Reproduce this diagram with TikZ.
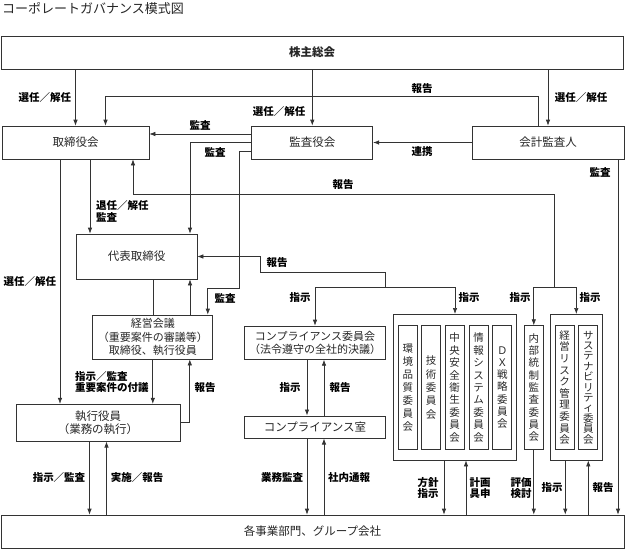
\documentclass[tikz,border=0pt]{standalone}
\usepackage{fontspec}
\setmainfont{Noto Sans CJK JP}
\usetikzlibrary{arrows.meta}

\tikzset{
  box/.style={draw=black!80, line width=0.7pt, inner sep=0pt, minimum height=33pt,
    text=black!85, align=center, font=\fontsize{11.5}{13.3}\selectfont},
  vcol/.style={draw=black!80, line width=0.7pt, inner sep=0pt, minimum width=19pt,
    minimum height=123.6pt, text=black!85, align=center, font=\fontsize{10.5}{#1}\selectfont},
  vcol/.default=12.5,
  lbl/.style={inner sep=0pt, font=\bfseries\fontsize{10.5}{11.5}\selectfont},
  ln/.style={draw=black!80, line width=0.7pt},
  arr/.style={ln, -{Latex[length=6pt,width=4.5pt]}},
}

\begin{document}
\begin{tikzpicture}[x=1pt, y=-1pt]
  \useasboundingbox (0,0) rectangle (625,549);

  \node[anchor=west, inner sep=0pt, font=\fontsize{13}{13}\selectfont, text=black!85] (title) at (2,9) {コーポレートガバナンス模式図};

  % boxes
  \node[box, font=\bfseries\fontsize{11.5}{13}\selectfont, minimum width=622pt] (soukai) at (312,52.5) {株主総会};
  \node[box, minimum width=147pt] (board) at (75.5,142.5) {取締役会};
  \node[box, minimum width=121pt] (kansa) at (312.3,142.5) {監査役会};
  \node[box, minimum width=152pt] (kaikei) at (548,142.5) {会計監査人};
  \node[box, minimum width=121pt, minimum height=45pt] (daihyo) at (136.5,256.5) {代表取締役};
  \node[box, minimum width=120pt, minimum height=44pt, font=\fontsize{11}{13.3}\selectfont] (keiei) at (152.8,337) {経営会議\\（重要案件の審議等）\\取締役、執行役員};
  \node[box, minimum width=164pt, minimum height=37pt] (shikko) at (98,422.7) {執行役員\\（業務の執行）};
  \node[box, minimum width=141.4pt, minimum height=33.3pt, font=\fontsize{11}{13.3}\selectfont] (comp) at (315,342.7) {コンプライアンス委員会\\（法令遵守の全社的決議）};
  \node[box, minimum width=141.4pt, minimum height=22.3pt] (compr) at (315,427) {コンプライアンス室};
  \node[box, minimum width=623pt] (jigyo) at (312.5,531.5) {各事業部門、グループ会社};

  % committees
  \node[box, minimum width=123.4pt, minimum height=145.7pt] (grp1) at (455,387.2) {};
  \node[box, minimum width=52pt, minimum height=145.7pt] (grp2) at (576.3,387.2) {};
  \node[vcol=13] (kankyo) at (407.8,387.5) {環\\境\\品\\質\\委\\員\\会};
  \node[vcol=13.3] (gijutsu) at (431.2,387.5) {技\\術\\委\\員\\会};
  \node[vcol=12.4] (anzen) at (454.7,387.5) {中\\央\\安\\全\\衛\\生\\委\\員\\会};
  \node[vcol=12.4] (joho) at (478.7,387.5) {情\\報\\シ\\ス\\テ\\ム\\委\\員\\会};
  \node[vcol=12.2] (dx) at (502.3,387.5) {Ｄ\\Ｘ\\戦\\略\\委\\員\\会};
  \node[vcol=12.3] (naibu) at (533.8,387.5) {内\\部\\統\\制\\監\\査\\委\\員\\会};
  \node[vcol=11.6] (risk) at (564.5,387.5) {経\\営\\リ\\ス\\ク\\管\\理\\委\\員\\会};
  \node[vcol=10.4] (sustain) at (588.3,387.5) {サ\\ス\\テ\\ナ\\ビ\\リ\\テ\\ィ\\委\\員\\会};

  \coordinate (j1) at (554,287);
  \coordinate (j2) at (385,287);

  % connectors
  \draw[arr] (board.north |- soukai.south) -- (board.north);
  \draw[arr] (kansa.north |- soukai.south) -- (kansa.north);
  \draw[arr] (kaikei.north |- soukai.south) -- (kaikei.north);
  \draw[arr] ([xshift=-10pt]kaikei.north) -- ++(0,-29) -| ([xshift=30pt]board.north);
  \draw[arr] ([yshift=8.5pt]kansa.west) -- ([yshift=8.5pt]kansa.west -| board.east);
  \draw[arr] (kansa.west) -| ([xshift=53.5pt]daihyo.north);
  \draw[arr] ([yshift=-8.5pt]kansa.west) -- ++(-12,0) -- ++(0,137) -| ([xshift=55pt]keiei.north);
  \draw[arr, {Latex[length=6pt,width=4.5pt]}-] (kansa.east) -- (kaikei.west);
  \draw[arr] ([xshift=70pt]kaikei.south) -- ([xshift=70pt]kaikei.south |- jigyo.north);

  \draw[arr] (j1) -- ++(0,-93) -| ([xshift=57.5pt]board.south);
  \draw[arr] (j1) -| (naibu.north);
  \draw[arr] (j1) -| (grp2.north);
  \draw[arr] (j2) -- ++(0,-15) -- ++(-125,0) |- (daihyo.east);
  \draw[arr] (j2) -| (comp.north);
  \draw[arr] (j2) -| (grp1.north);

  \draw[arr] ([xshift=14.5pt]board.south) -- ([xshift=14.5pt]board.south |- daihyo.north);
  \draw[arr] ([xshift=-15.5pt]board.south) -- ([xshift=-15.5pt]board.south |- shikko.north);
  \draw[ln] ([xshift=16.5pt]daihyo.south) -- ([xshift=16.5pt]daihyo.south |- keiei.north);
  \draw[arr] ([xshift=53.5pt]daihyo.south |- keiei.north) -- ([xshift=53.5pt]daihyo.south);
  \draw[arr] (keiei.south) -- (keiei.south |- shikko.north);
  \draw[arr] (shikko.east) -| ([xshift=37pt]keiei.south);
  \draw[arr] ([xshift=-8.5pt]shikko.south) -- ([xshift=-8.5pt]shikko.south |- jigyo.north);
  \draw[arr] ([xshift=8.5pt]shikko.south |- jigyo.north) -- ([xshift=8.5pt]shikko.south);

  \draw[arr] ([xshift=-8pt]comp.south) -- ([xshift=-8pt]comp.south |- compr.north);
  \draw[arr] ([xshift=9pt]comp.south |- compr.north) -- ([xshift=9pt]comp.south);
  \draw[arr] ([xshift=-8pt]compr.south) -- ([xshift=-8pt]compr.south |- jigyo.north);
  \draw[arr] ([xshift=9pt]compr.south |- jigyo.north) -- ([xshift=9pt]compr.south);

  \draw[arr] ([xshift=-11pt]grp1.south) -- ([xshift=-11pt]grp1.south |- jigyo.north);
  \draw[arr] ([xshift=11pt]grp1.south |- jigyo.north) -- ([xshift=11pt]grp1.south);
  \draw[arr] (naibu.south) -- (naibu.south |- jigyo.north);
  \draw[arr] ([xshift=-11pt]grp2.south) -- ([xshift=-11pt]grp2.south |- jigyo.north);
  \draw[arr] ([xshift=12pt]grp2.south |- jigyo.north) -- ([xshift=12pt]grp2.south);

  % labels
  \node[lbl] (l1) at (45,98) {選任／解任};
  \node[lbl] (l2) at (279,112) {選任／解任};
  \node[lbl] (l3) at (581,98) {選任／解任};
  \node[lbl] (l4) at (422,89) {報告};
  \node[lbl] (l5) at (200,125) {監査};
  \node[lbl] (l6) at (215,152) {監査};
  \node[lbl] (l7) at (422,152) {連携};
  \node[lbl] (l8) at (600,172) {監査};
  \node[lbl] (l9) at (343,185) {報告};
  \node[lbl, anchor=west, align=left] (l10) at (96,211.5) {退任／解任\\監査};
  \node[lbl] (l11) at (30,282) {選任／解任};
  \node[lbl] (l12) at (277,263) {報告};
  \node[lbl] (l13) at (225,298) {監査};
  \node[lbl] (l14) at (300,298) {指示};
  \node[lbl] (l15) at (469,298) {指示};
  \node[lbl] (l16) at (520,298) {指示};
  \node[lbl] (l17) at (590,298) {指示};
  \node[lbl, anchor=west, align=left] (l18) at (75,382) {指示／監査\\重要案件の付議};
  \node[lbl] (l19) at (205,388) {報告};
  \node[lbl] (l20) at (290,388) {指示};
  \node[lbl] (l21) at (340,388) {報告};
  \node[lbl] (l22) at (59,478) {指示／監査};
  \node[lbl] (l23) at (137,478) {実施／報告};
  \node[lbl] (l24) at (282,478) {業務監査};
  \node[lbl] (l25) at (349,478) {社内通報};
  \node[lbl, align=center] (l26) at (428,488) {方針\\指示};
  \node[lbl, align=center] (l27) at (480,488) {計画\\具申};
  \node[lbl, align=center] (l28) at (521,488) {評価\\検討};
  \node[lbl] (l29) at (552,488) {指示};
  \node[lbl] (l30) at (603,488) {報告};
\end{tikzpicture}
\end{document}
